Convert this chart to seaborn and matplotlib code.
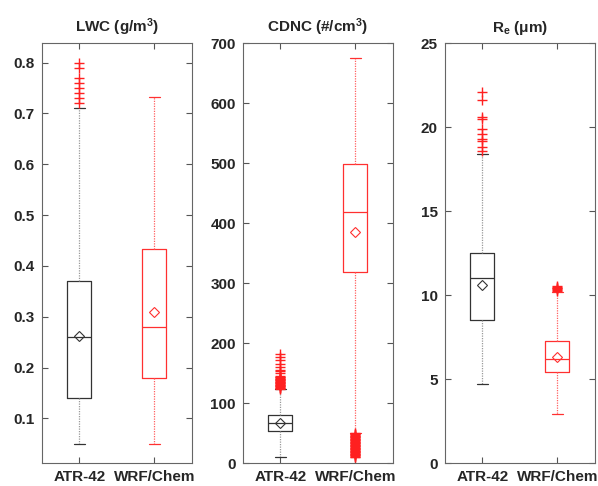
import matplotlib
matplotlib.use("Agg")
import matplotlib.pyplot as plt
import pandas as pd
import seaborn as sns

groups = ["ATR-42", "WRF/Chem"]

# five-number summaries: whisker low, Q1, median, Q3, whisker high
lwc_atr = [0.05, 0.14, 0.26, 0.37, 0.71]
lwc_wrf = [0.05, 0.18, 0.28, 0.433, 0.733]
lwc_means = [0.263, 0.31]
lwc_atr_out = [0.72, 0.73, 0.74, 0.75, 0.76, 0.77, 0.79, 0.80]
lwc_wrf_out = []

cdnc_atr = [10, 53, 67, 81, 123]
cdnc_wrf = [50, 318, 418, 498, 675]
cdnc_means = [67, 385]
cdnc_atr_out = [124, 125, 126, 127, 128, 129, 130, 131, 132, 133, 134, 135,
                136, 137, 138, 139, 140, 141, 142, 143, 144, 145,
                150, 153, 156, 160, 166, 172, 177, 182]
cdnc_wrf_out = [10, 11, 12, 13, 14, 15, 16, 17, 18, 19, 20, 21, 22, 23, 24,
                25, 26, 27, 28, 29, 30, 31, 32, 33, 34, 35, 36, 37, 38, 39,
                40, 41, 42, 43, 44, 45, 46, 47, 48, 49, 50]

re_atr = [4.7, 8.5, 11.0, 12.5, 18.4]
re_wrf = [2.9, 5.4, 6.2, 7.3, 10.2]
re_means = [10.6, 6.3]
re_atr_out = [18.6, 18.8, 19.2, 19.3, 19.6, 19.9, 20.5, 20.6, 21.6, 22.1]
re_wrf_out = [10.25, 10.3, 10.35, 10.4, 10.45, 10.5, 10.55]

sns.set_style("ticks")
plt.rcParams["font.family"] = ["Liberation Sans", "DejaVu Sans"]
plt.rcParams["font.weight"] = "bold"
plt.rcParams["mathtext.fontset"] = "custom"
plt.rcParams["mathtext.rm"] = "Liberation Sans:bold"
plt.rcParams["mathtext.it"] = "Liberation Sans:bold"
plt.rcParams["mathtext.bf"] = "Liberation Sans:bold"

colors = ["#333333", "#ff3030"]
whisker_colors = ["#999999", "#ff6060"]

panels = [
    ("LWC (g/m$^3$)", lwc_atr, lwc_wrf, lwc_means, lwc_atr_out, lwc_wrf_out,
     (0.012, 0.838), [0.1, 0.2, 0.3, 0.4, 0.5, 0.6, 0.7, 0.8]),
    ("CDNC (#/cm$^3$)", cdnc_atr, cdnc_wrf, cdnc_means, cdnc_atr_out, cdnc_wrf_out,
     (0, 700), [0, 100, 200, 300, 400, 500, 600, 700]),
    ("R$_e$ (μm)", re_atr, re_wrf, re_means, re_atr_out, re_wrf_out,
     (0, 25), [0, 5, 10, 15, 20, 25]),
]
lefts = [0.070, 0.406, 0.744]

fig = plt.figure(figsize=(5.98, 4.86), dpi=100)

for left, (title, atr, wrf, means, atr_out, wrf_out, ylim, yticks) in zip(lefts, panels):
    ax = fig.add_axes([left, 0.047, 0.251, 0.864])

    # outliers as red plus signs
    out_df = pd.DataFrame({
        "group": [groups[0]] * len(atr_out) + [groups[1]] * len(wrf_out),
        "value": atr_out + wrf_out,
    })
    sns.stripplot(data=out_df, x="group", y="value", order=groups, jitter=False,
                  marker="+", color="#ff2020", size=6.5, linewidth=1.0, ax=ax)

    for i, s in enumerate([atr, wrf]):
        st = [{"whislo": s[0], "q1": s[1], "med": s[2], "q3": s[3],
               "whishi": s[4], "mean": means[i], "fliers": []}]
        ax.bxp(st, positions=[i], widths=0.32, capwidths=0.14, showmeans=True,
               showfliers=False, manage_ticks=False,
               boxprops=dict(color=colors[i], lw=0.9),
               medianprops=dict(color=colors[i], lw=0.9),
               whiskerprops=dict(color=whisker_colors[i], lw=0.9, ls=(0, (1, 1))),
               capprops=dict(color=colors[i], lw=0.9),
               meanprops=dict(marker="D", markersize=5, markerfacecolor="none",
                              markeredgecolor=colors[i], markeredgewidth=0.8))

    ax.set_xlim(-0.5, 1.5)
    ax.set_ylim(*ylim)
    ax.set_yticks(yticks)
    ax.set_xticks([0, 1])
    ax.set_xticklabels(groups, fontsize=11, fontweight="bold")
    ax.set_xlabel("")
    ax.set_ylabel("")
    ax.set_title(title, fontsize=11, fontweight="bold", pad=8)
    ax.tick_params(axis="both", direction="in", top=True, right=True, length=4,
                   width=0.8, color="#555555", pad=5)
    ax.tick_params(axis="y", labelsize=11)
    for lbl in ax.get_yticklabels():
        lbl.set_fontweight("bold")
    for sp in ax.spines.values():
        sp.set_visible(True)
        sp.set_color("#666666")
        sp.set_linewidth(0.8)

fig.savefig("out.png", dpi=100)
